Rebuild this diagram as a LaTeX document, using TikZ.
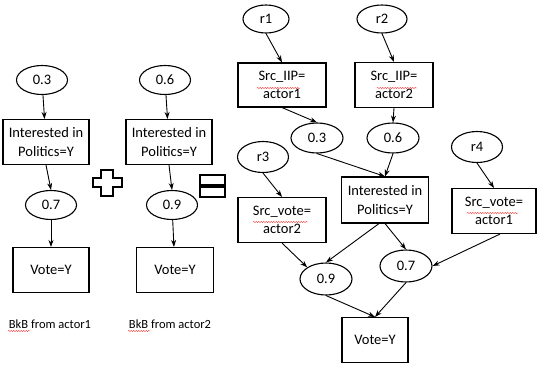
\documentclass[tikz,border=0pt]{standalone}
\usepackage{fontspec}
\setmainfont{Carlito}
\usetikzlibrary{arrows.meta,shapes.geometric,decorations.pathmorphing}
\begin{document}
\begin{tikzpicture}[x=1pt,y=-1pt,
  every node/.style={font=\fontsize{14.5}{18.5}\selectfont},
  box/.style={draw,line width=1.1pt,rectangle,align=center,inner sep=0pt,minimum height=45pt},
  oval/.style={draw,line width=1.1pt,ellipse,inner sep=0pt,minimum width=51pt,minimum height=29pt},
  arr/.style={line width=0.9pt,-{Stealth[length=7pt,width=5pt]}},
  squig/.style={red!80,line width=0.4pt,decorate,decoration={snake,segment length=2.5pt,amplitude=0.6pt}},
  sym/.style={line width=1.1pt,fill=white,line join=miter}]
\useasboundingbox[fill=white] (0,0) rectangle (537,364);
% left column (actor1)
\node[oval] (a03) at (42,80) {0.3};
\node[box,minimum width=86pt] (aip) at (46,142) {Interested in\\Politics=Y};
\node[oval] (a07) at (51,205) {0.7};
\node[box,minimum width=76pt] (avote) at (51,270) {Vote=Y};
\node[font=\fontsize{12.5}{15}\selectfont] (alab) at (50,324) {BkB from actor1};
\draw[arr] (a03) -- (aip);
\draw[arr] (aip.south) -- (a07.north);
\draw[arr] (a07) -- (avote);
% second column (actor2)
\node[oval] (b06) at (165,80) {0.6};
\node[box,minimum width=86pt] (bip) at (169,142) {Interested in\\Politics=Y};
\node[oval] (b09) at (172,205) {0.9};
\node[box,minimum width=77pt] (bvote) at (175,270) {Vote=Y};
\node[font=\fontsize{12.5}{15}\selectfont] (blab) at (170,324) {BkB from actor2};
\draw[arr] (b06) -- (bip);
\draw[arr] (bip.south) -- (b09.north);
\draw[arr] (b09) -- (bvote);
% plus sign
\draw[sym] (101,170) -- (113,170) -- (113,178) -- (122,178) -- (122,187) -- (113,187) -- (113,196) -- (101,196) -- (101,187) -- (93,187) -- (93,178) -- (101,178) -- cycle;
% equals sign
\draw[sym] (200,175) rectangle (225,185);
\draw[sym] (200,187) rectangle (225,197);
% right part (combined)
\node[oval,minimum width=46pt,minimum height=28pt] (r1) at (266,19) {r1};
\node[oval,minimum width=50pt,minimum height=28pt] (r2) at (382,19) {r2};
\node[box,minimum width=88pt,minimum height=44pt] (s1) at (282,85) {Src\_IIP=\\actor1};
\node[box,minimum width=78pt] (s2) at (394,85) {Src\_IIP=\\actor2};
\node[oval,minimum width=52pt,minimum height=30pt] (c03) at (317,138) {0.3};
\node[oval,minimum width=52pt,minimum height=30pt] (c06) at (393,138) {0.6};
\node[oval,minimum width=51pt,minimum height=31pt] (r3) at (263,157) {r3};
\node[oval,minimum width=51pt,minimum height=31pt] (r4) at (477,147) {r4};
\node[box,minimum width=87pt,minimum height=46pt] (cip) at (385,200) {Interested in\\Politics=Y};
\node[box,minimum width=88pt] (v2) at (282,220) {Src\_vote=\\actor2};
\node[box,minimum width=84pt] (v1) at (494,211) {Src\_vote=\\actor1};
\node[oval,minimum width=52pt,minimum height=32pt] (c09) at (326,279) {0.9};
\node[oval,minimum width=52pt,minimum height=32pt] (c07) at (406,266) {0.7};
\node[box,minimum width=66pt] (cvote) at (375,340) {Vote=Y};
\draw[arr] (r1.south) -- (s1.north);
\draw[arr] (r2.south) -- (s2.north);
\draw[arr] (s1.south) -- (c03.north);
\draw[arr] (s2.south) -- (c06.north);
\draw[arr] (c03.south) -- (cip.north);
\draw[arr] (c06.south) -- (cip.north);
\draw[arr] (r3.south) -- (v2.north);
\draw[arr] (r4.south) -- (v1.north);
\draw[arr] ([xshift=-6pt]cip.south) -- (c09.north);
\draw[arr] (cip.south) -- (c07.north);
\draw[arr] (v2.south) -- (c09.north west);
\draw[arr] ([xshift=6pt]v1.south) -- (c07.east);
\draw[arr] (c09.south) -- (cvote.north);
\draw[arr] (c07.south) -- (cvote.north);
% spell-check underlines
\draw[squig] (257,88) -- (300,88);
\draw[squig] (377,88) -- (417,88);
\draw[squig] (253,222) -- (308,222);
\draw[squig] (467,213) -- (518,213);
\draw[squig] (8,331) -- (30,331);
\draw[squig] (128,331) -- (150,331);
\end{tikzpicture}
\end{document}
